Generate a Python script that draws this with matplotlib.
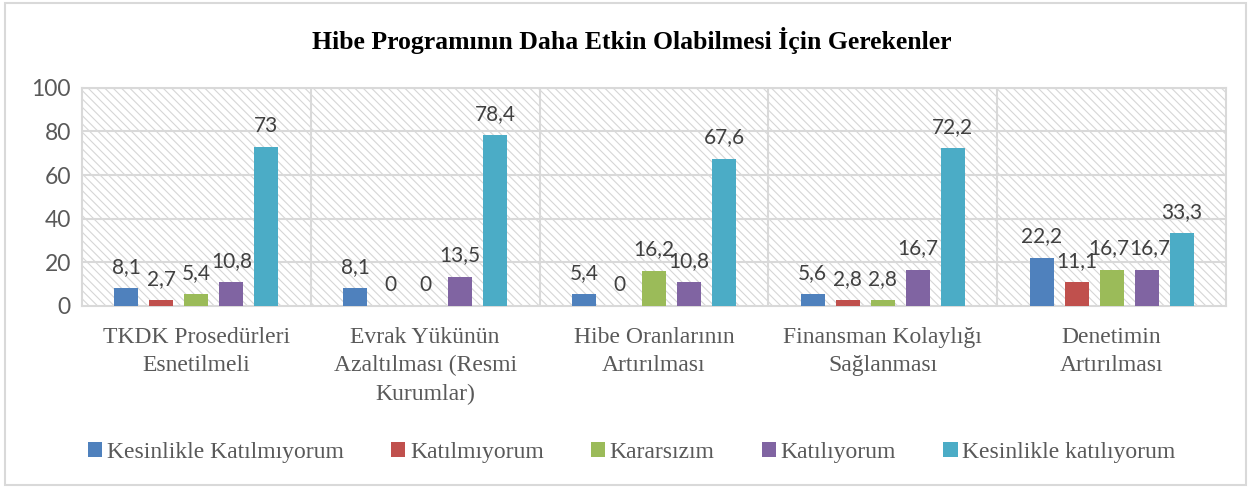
import matplotlib.pyplot as plt
import numpy as np
from matplotlib.patches import Rectangle

categories = ['TKDK Prosedürleri\nEsnetilmeli', 'Evrak Yükünün\nAzaltılması (Resmi\nKurumlar)',
              'Hibe Oranlarının\nArtırılması', 'Finansman Kolaylığı\nSağlanması', 'Denetimin\nArtırılması']
series = ['Kesinlikle Katılmıyorum', 'Katılmıyorum', 'Kararsızım', 'Katılıyorum', 'Kesinlikle katılıyorum']
values = [
    [8.1, 8.1, 5.4, 5.6, 22.2],
    [2.7, 0, 0, 2.8, 11.1],
    [5.4, 0, 16.2, 2.8, 16.7],
    [10.8, 13.5, 10.8, 16.7, 16.7],
    [73, 78.4, 67.6, 72.2, 33.3],
]
colors = ['#4f81bd', '#c0504d', '#9bbb59', '#8064a2', '#4bacc6']

plt.rcParams['hatch.linewidth'] = 0.8
fig = plt.figure(figsize=(12.51, 4.88), dpi=100)
fig.patches.append(Rectangle((0.004, 0.006), 0.992, 0.988, transform=fig.transFigure,
                             fill=False, edgecolor='#d9d9d9', linewidth=1.5))
ax = fig.add_axes([0.0655, 0.373, 0.9145, 0.447])

ax.add_patch(Rectangle((0, 0), 1, 1, transform=ax.transAxes, facecolor='white',
                       edgecolor='#d6d6d6', hatch='\\\\\\\\', linewidth=0, zorder=0))

x = np.arange(len(categories))
step = 0.153
width = 0.105
for i, (name, vals, c) in enumerate(zip(series, values, colors)):
    pos = x + (i - 2) * step
    ax.bar(pos, vals, width, color=c, label=name, zorder=3)
    for j, (p, v) in enumerate(zip(pos, vals)):
        txt = str(v).replace('.', ',')
        if txt.endswith(',0'):
            txt = txt[:-2]
        # the two 16,7 labels in the last group sit almost on each other
        dx = 0
        if j == 4 and i == 2:
            dx = -2
        elif j == 4 and i == 3:
            dx = 2
        ax.annotate(txt, (p, v), xytext=(dx, 8), textcoords='offset points',
                    ha='center', va='bottom', fontsize=15, color='#404040',
                    family='Lato', zorder=4)

ax.set_xlim(-0.5, 4.5)
ax.set_ylim(0, 100)
ax.set_yticks(range(0, 101, 20))
for yv in range(20, 101, 20):
    ax.axhline(yv, color='#d9d9d9', lw=1.5, zorder=1)
for xv in [0.5, 1.5, 2.5, 3.5]:
    ax.axvline(xv, color='#d9d9d9', lw=1.5, zorder=1)
for s in ax.spines.values():
    s.set_color('#d9d9d9')
    s.set_linewidth(1.5)

ax.set_xticks(x)
ax.set_xticklabels(categories, family='Liberation Serif', fontsize=17, color='#595959',
                   linespacing=1.45)
ax.tick_params(axis='x', length=0, pad=15)
ax.tick_params(axis='y', length=0, pad=8, labelsize=16.5, labelcolor='#595959')
for lab in ax.get_yticklabels():
    lab.set_family('Lato')

fig.suptitle('Hibe Programının Daha Etkin Olabilmesi İçin Gerekenler', x=0.505, y=0.945,
             family='Liberation Serif', fontweight='bold', fontsize=18.5)

fig.legend(loc='center', bbox_to_anchor=(0.505, 0.073), ncol=5, frameon=False,
           prop={'family': 'Liberation Serif', 'size': 17}, labelcolor='#595959',
           handlelength=0.6, handleheight=0.6, handletextpad=0.2, columnspacing=2.0)

fig.savefig('out.png', dpi=100)
